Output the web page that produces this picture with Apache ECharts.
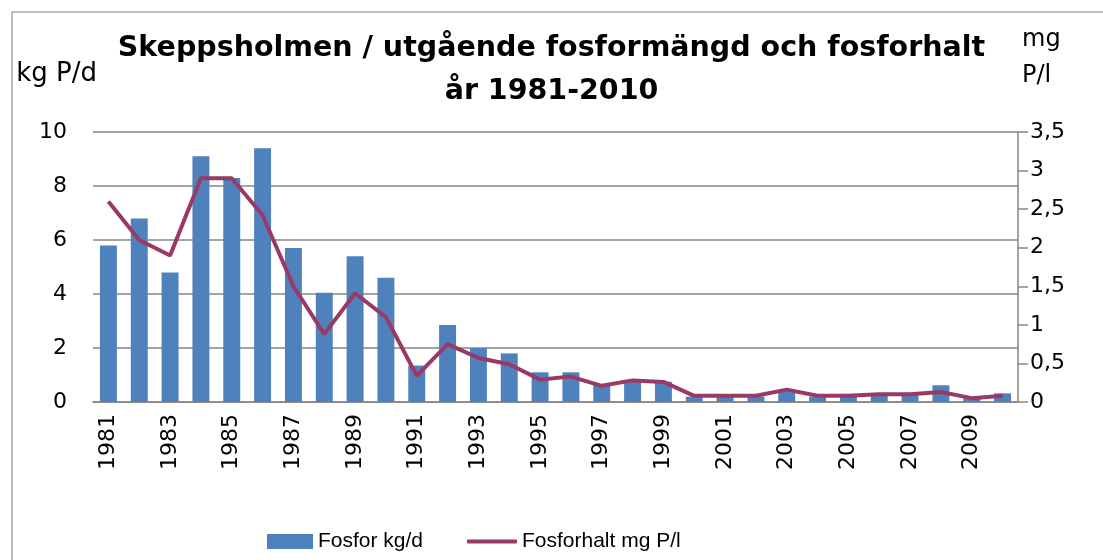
<!DOCTYPE html>
<html>
<head>
<meta charset="utf-8">
<script src="https://cdn.jsdelivr.net/npm/echarts@6/dist/echarts.min.js"></script>
<style>
  html, body { margin: 0; padding: 0; background: #fff; }
  #chart { width: 1103px; height: 560px; }
</style>
</head>
<body>
<div id="chart"></div>
<script>
// data
const years = ['1981', '1982', '1983', '1984', '1985', '1986', '1987', '1988', '1989', '1990',
  '1991', '1992', '1993', '1994', '1995', '1996', '1997', '1998', '1999', '2000',
  '2001', '2002', '2003', '2004', '2005', '2006', '2007', '2008', '2009', '2010']
const fosforKg = [5.8, 6.8, 4.8, 9.1, 8.3, 9.4, 5.7, 4.05, 5.4, 4.6,
  1.35, 2.85, 2.0, 1.8, 1.1, 1.1, 0.65, 0.8, 0.75, 0.2,
  0.2, 0.2, 0.4, 0.2, 0.3, 0.3, 0.3, 0.62, 0.15, 0.32]
const fosforHalt = [2.6, 2.1, 1.9, 2.9, 2.9, 2.42, 1.5, 0.88, 1.41, 1.1,
  0.34, 0.75, 0.57, 0.49, 0.29, 0.33, 0.21, 0.28, 0.26, 0.08,
  0.08, 0.08, 0.16, 0.08, 0.08, 0.1, 0.1, 0.13, 0.05, 0.08]
const leftTicks = [0, 2, 4, 6, 8, 10]
const rightTicks = [0, 0.5, 1, 1.5, 2, 2.5, 3, 3.5]

const font = '"DejaVu Sans", sans-serif'
const legendFont = '"Liberation Sans", Arial, sans-serif'
const gridColor = '#868686'
const barColor = '#4f81bd'
const lineColor = '#993a66'

const chart = echarts.init(document.getElementById('chart'))

chart.setOption({
  animation: false,
  textStyle: { fontFamily: font, color: '#000' },
  title: {
    text: 'Skeppsholmen / utgående fosformängd och fosforhalt\når 1981-2010',
    left: 'center',
    top: 22,
    textStyle: {
      fontFamily: font,
      fontSize: 28.5,
      fontWeight: 'bold',
      lineHeight: 43,
      color: '#000',
    },
  },
  graphic: [
    {
      type: 'rect',
      shape: { x: 12, y: 12, width: 1200, height: 700 },
      style: { fill: 'none', stroke: '#a6a6a6', lineWidth: 1.5 },
      silent: true,
      z: -1,
    },
  ],
  legend: [
    {
      left: 262,
      top: 526,
      itemWidth: 46,
      itemHeight: 15,
      icon: 'rect',
      textStyle: { fontFamily: legendFont, fontSize: 21, color: '#000' },
      data: ['Fosfor kg/d'],
    },
    {
      left: 462,
      top: 526,
      itemWidth: 50,
      itemHeight: 4,
      icon: 'roundRect',
      textStyle: { fontFamily: legendFont, fontSize: 21, color: '#000' },
      data: ['Fosforhalt mg P/l'],
    },
  ],
  grid: {
    left: 93,
    right: 85,
    top: 132,
    bottom: 158,
  },
  xAxis: {
    type: 'category',
    data: years,
    axisLine: { lineStyle: { color: gridColor, width: 1.5 } },
    axisTick: { show: false },
    axisLabel: {
      rotate: 90,
      interval: 1,
      fontSize: 22,
      margin: 12,
      color: '#000',
    },
  },
  yAxis: [
    {
      type: 'value',
      min: leftTicks[0],
      max: leftTicks[leftTicks.length - 1],
      interval: 2,
      name: 'kg P/d',
      nameLocation: 'end',
      nameGap: 45,
      nameTextStyle: { fontSize: 26, align: 'right', color: '#000', padding: [0, -4, 0, 0] },
      axisLine: { show: false },
      axisTick: { show: false },
      axisLabel: { fontSize: 22, margin: 26, color: '#000' },
      splitLine: { lineStyle: { color: gridColor, width: 1.5 } },
    },
    {
      type: 'value',
      min: rightTicks[0],
      max: rightTicks[rightTicks.length - 1],
      interval: 0.5,
      position: 'right',
      name: 'mg\nP/l',
      nameLocation: 'end',
      nameGap: 38,
      nameTextStyle: { fontSize: 24, align: 'left', lineHeight: 36, color: '#000', padding: [0, 0, 0, 4] },
      axisLine: { show: true, lineStyle: { color: gridColor, width: 1.5 } },
      axisTick: { show: true, inside: false, length: 10, lineStyle: { color: gridColor, width: 1.5 } },
      axisLabel: {
        fontSize: 22,
        margin: 12,
        color: '#000',
        formatter: (v) => String(v).replace('.', ','),
      },
      splitLine: { show: false },
    },
  ],
  series: [
    {
      name: 'Fosfor kg/d',
      type: 'bar',
      yAxisIndex: 0,
      data: fosforKg,
      barWidth: '55%',
      itemStyle: { color: barColor },
    },
    {
      name: 'Fosforhalt mg P/l',
      type: 'line',
      yAxisIndex: 1,
      data: fosforHalt,
      symbol: 'none',
      lineStyle: { color: lineColor, width: 4 },
      itemStyle: { color: lineColor },
    },
  ],
})
</script>
</body>
</html>
